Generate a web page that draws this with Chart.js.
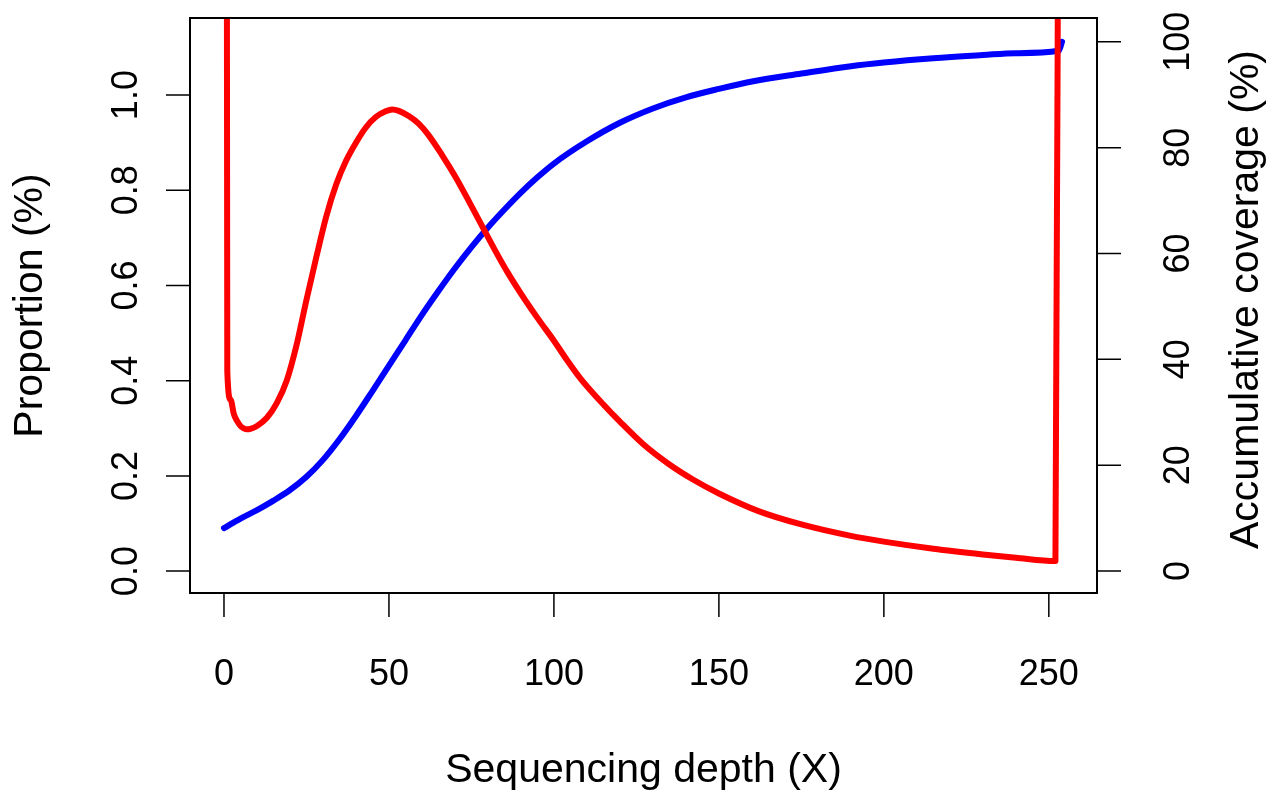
<!doctype html>
<html lang="en">
  <head>
    <meta charset="UTF-8" />
    <script src="https://cdn.jsdelivr.net/npm/chart.js@4.4.1/dist/chart.umd.min.js"></script>
    <style>
      body { margin: 0; background: #fff; }
      canvas { display: block; }
    </style>
  </head>
  <body>
    <canvas id="myChart" width="1277" height="793"></canvas>

    <script>
      // values
      const redDepth = [0, 1, 2, 3, 4, 5, 6, 7, 8, 10, 13, 16, 19, 22, 25, 28, 31, 34, 37, 40, 43, 46, 49, 51, 53, 56, 59, 62, 66, 70, 74, 78, 82, 86, 90, 95, 100, 104, 108, 115, 120, 127, 135, 142, 150, 162, 175, 190, 200, 215, 230, 240, 252, 253];
      const proportion = [8.1, 0.42, 0.36, 0.33, 0.315, 0.305, 0.30, 0.298, 0.299, 0.305, 0.322, 0.353, 0.40, 0.475, 0.57, 0.66, 0.745, 0.812, 0.862, 0.90, 0.932, 0.954, 0.966, 0.970, 0.967, 0.956, 0.94, 0.916, 0.875, 0.83, 0.78, 0.728, 0.676, 0.627, 0.583, 0.532, 0.484, 0.443, 0.405, 0.35, 0.314, 0.267, 0.224, 0.193, 0.163, 0.126, 0.098, 0.074, 0.062, 0.047, 0.035, 0.028, 0.021, 1.8];

      const blueDepth = [0, 5, 10, 15, 20, 25, 30, 35, 40, 45, 50, 55, 60, 65, 70, 75, 80, 85, 90, 95, 100, 110, 120, 130, 140, 150, 160, 175, 190, 200, 215, 230, 240, 253, 254];
      const coverage = [8.1, 9.9, 11.5, 13.3, 15.3, 17.8, 21.0, 24.9, 29.3, 34.0, 38.8, 43.6, 48.4, 52.9, 57.2, 61.2, 64.9, 68.3, 71.5, 74.4, 77.0, 81.2, 84.7, 87.4, 89.5, 91.1, 92.5, 94.0, 95.4, 96.1, 96.9, 97.5, 97.85, 98.3, 100];

      const xTicks = [0, 50, 100, 150, 200, 250];
      const leftTicks = [0, 0.2, 0.4, 0.6, 0.8, 1.0];
      const rightTicks = [0, 20, 40, 60, 80, 100];

      const xTitle = 'Sequencing depth (X)';
      const leftTitle = 'Proportion (%)';
      const rightTitle = 'Accumulative coverage (%)';

      const FONT = '"Liberation Sans", Arial, Helvetica, sans-serif';

      function points(xs, ys) {
        return xs.map((x, i) => ({ x: x, y: ys[i] }));
      }

      // R-style box, ticks and rotated labels
      const baseAxes = {
        id: 'baseAxes',
        afterDraw(chart) {
          const ctx = chart.ctx;
          const a = chart.chartArea;
          const sx = chart.scales.x;
          const sl = chart.scales.y;
          const sr = chart.scales.y2;
          const tick = 24;
          ctx.save();
          ctx.strokeStyle = '#000';
          ctx.fillStyle = '#000';

          ctx.lineWidth = 2;
          ctx.strokeRect(a.left, a.top, a.right - a.left, a.bottom - a.top);

          ctx.lineWidth = 1.5;
          ctx.beginPath();
          xTicks.forEach(v => {
            const px = sx.getPixelForValue(v);
            ctx.moveTo(px, a.bottom);
            ctx.lineTo(px, a.bottom + tick);
          });
          leftTicks.forEach(v => {
            const py = sl.getPixelForValue(v);
            ctx.moveTo(a.left, py);
            ctx.lineTo(a.left - tick, py);
          });
          rightTicks.forEach(v => {
            const py = sr.getPixelForValue(v);
            ctx.moveTo(a.right, py);
            ctx.lineTo(a.right + tick, py);
          });
          ctx.stroke();

          ctx.font = '36px ' + FONT;
          ctx.textAlign = 'center';
          ctx.textBaseline = 'alphabetic';
          xTicks.forEach(v => {
            ctx.fillText(String(v), sx.getPixelForValue(v), 685);
          });

          leftTicks.forEach(v => {
            ctx.save();
            ctx.translate(137, sl.getPixelForValue(v));
            ctx.rotate(-Math.PI / 2);
            ctx.fillText(v.toFixed(1), 0, 0);
            ctx.restore();
          });
          rightTicks.forEach(v => {
            ctx.save();
            ctx.translate(1189, sr.getPixelForValue(v));
            ctx.rotate(-Math.PI / 2);
            ctx.fillText(String(v), 0, 0);
            ctx.restore();
          });

          const midY = (a.top + a.bottom) / 2;
          ctx.font = '41px ' + FONT;
          ctx.fillText(xTitle, (a.left + a.right) / 2, 782);

          ctx.save();
          ctx.translate(42, midY);
          ctx.rotate(-Math.PI / 2);
          ctx.fillText(leftTitle, 0, 0);
          ctx.restore();

          ctx.save();
          ctx.translate(1258, midY - 6);
          ctx.rotate(-Math.PI / 2);
          ctx.fillText(rightTitle, 0, 0);
          ctx.restore();

          ctx.restore();
        }
      };

      const ctx = document.getElementById('myChart').getContext('2d');
      const myChart = new Chart(ctx, {
        type: 'line',
        data: {
          datasets: [
            {
              label: 'Proportion',
              data: points(redDepth, proportion),
              yAxisID: 'y',
              borderColor: '#ff0000',
              borderWidth: 6,
              borderJoinStyle: 'round',
              pointRadius: 0,
              cubicInterpolationMode: 'monotone',
              fill: false,
              clip: 0
            },
            {
              label: 'Accumulative coverage',
              data: points(blueDepth, coverage),
              yAxisID: 'y2',
              borderColor: '#0000ff',
              borderWidth: 6,
              borderJoinStyle: 'round',
              borderCapStyle: 'round',
              pointRadius: 0,
              cubicInterpolationMode: 'monotone',
              fill: false,
              clip: 0
            }
          ]
        },
        options: {
          responsive: false,
          animation: false,
          events: [],
          layout: { padding: { left: 190, top: 18, right: 180, bottom: 200 } },
          plugins: { legend: { display: false }, tooltip: { enabled: false } },
          scales: {
            x: { type: 'linear', min: -10.3, max: 264.6, display: false },
            y: { type: 'linear', min: -0.046, max: 1.162, display: false },
            y2: { type: 'linear', min: -4.16, max: 104.5, display: false }
          }
        },
        plugins: [baseAxes]
      });
    </script>
  </body>
</html>
